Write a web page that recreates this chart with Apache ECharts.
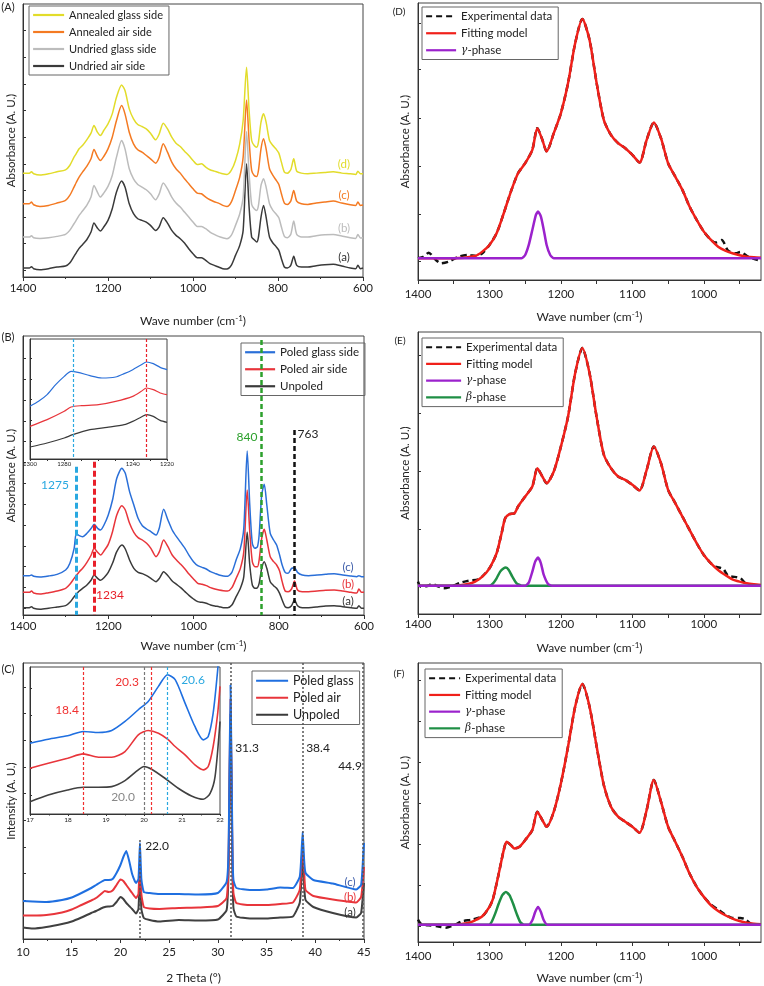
<!DOCTYPE html>
<html><head><meta charset="utf-8">
<script src="https://cdn.jsdelivr.net/npm/echarts@6/dist/echarts.min.js"></script>
<style>html,body{margin:0;padding:0;background:#fff}#c{width:764px;height:986px}</style>
</head><body><div id="c"></div>
<script>
// ---------- Panel A & B : FTIR (wave number grid) ----------
const wnFTIR = [1400,1385,1380,1375,1360,1340,1320,1300,1290,1280,1275,1268,1260,1250,1240,1233,1225,1218,1210,1200,1190,1180,1168,1160,1150,1140,1130,1120,1110,1100,1088,1080,1070,1060,1050,1040,1030,1020,1010,1000,990,980,970,960,950,940,930,920,910,900,890,882,874,868,862,856,850,846,840,834,828,820,812,805,798,792,785,778,770,763,756,745,730,710,690,670,650,630,617,612,606,600];
const undriedAir = [27,27,31,25,22,25,30,33,42,62,72,86,97,112,135,162,147,138,150,170,205,255,288,270,220,190,175,170,165,155,140,150,178,162,140,125,115,102,85,70,58,58,50,40,35,30,25,24,35,65,95,140,340,210,120,112,105,120,180,215,180,120,102,92,80,55,30,27,35,62,35,30,30,34,37,38,33,27,25,35,25,27];
const undriedGlass = [120,120,124,118,116,118,122,128,140,160,170,185,198,215,240,275,255,240,252,272,305,360,410,385,325,295,278,270,262,250,232,248,282,265,240,222,210,195,180,165,152,152,145,135,128,122,118,115,125,155,190,240,437,310,218,205,200,215,275,295,270,220,200,190,178,150,122,118,128,168,128,120,120,124,127,128,123,118,116,128,117,118];
const annealedAir = [220,220,225,217,212,215,222,230,245,270,283,300,315,332,355,383,362,350,362,385,420,470,515,490,435,400,382,375,365,355,342,358,400,375,345,325,312,295,280,265,252,250,240,232,226,222,215,212,225,260,300,360,532,410,320,305,302,320,385,415,385,325,305,292,278,250,222,218,228,260,228,220,218,222,225,228,222,217,215,225,215,216];
const annealedGlass = [312,312,316,310,306,310,316,322,335,360,370,385,395,412,432,455,435,425,440,460,490,540,577,560,505,475,458,452,445,432,412,428,462,445,420,402,392,378,365,350,338,340,330,322,318,314,310,308,320,350,400,470,630,500,410,395,390,405,465,490,465,410,395,385,372,345,315,312,322,355,318,312,310,312,314,316,312,310,308,318,310,310];
const unpoledB = [22,22,25,20,17,20,24,28,38,55,62,72,80,90,105,120,110,104,112,128,155,190,210,198,165,140,128,124,118,110,100,110,130,118,102,92,82,70,58,48,40,38,35,30,27,25,22,22,30,55,80,115,248,150,90,80,82,95,140,160,140,100,88,80,65,45,25,22,28,45,28,22,22,24,27,28,25,22,20,28,20,20];
const poledAirB = [68,68,72,66,63,67,72,80,92,110,118,130,140,158,180,200,188,180,192,212,250,300,328,315,275,248,232,225,215,200,175,190,225,205,180,165,152,138,122,108,95,92,88,82,78,75,73,72,82,110,140,190,375,250,160,145,145,165,230,257,225,175,160,150,132,100,72,70,78,102,75,70,70,72,74,75,72,68,66,78,68,68];
const poledGlassB = [118,118,120,116,114,117,122,135,155,200,245,238,235,245,260,272,260,255,270,300,345,410,440,425,370,330,290,268,258,250,240,262,317,285,255,235,218,200,178,160,148,143,138,130,125,120,117,116,128,165,200,260,492,330,215,200,205,240,360,392,330,245,225,210,180,150,128,125,140,142,128,120,118,120,122,124,120,117,115,118,115,115];
const markLinesB = [1275, 1234, 840, 763];       // wave numbers of dashed guides
const markTopsB = [445, 460, 825, 555];          // upper ends of the guides (A.U.)

// inset of B
const insetBGlassX = [1300,1295,1290,1285,1280,1276,1272,1265,1258,1250,1245,1240,1235,1232,1228,1224,1220];
const insetBGlass  = [158,173,193,223,248,263,260,250,243,246,256,268,283,291,286,275,268];
const insetBAirX = [1300,1290,1280,1276,1270,1260,1250,1240,1235,1232,1228,1224,1220];
const insetBAir  = [98,118,143,156,160,163,173,188,203,213,208,198,193];
const insetBUnpoledX = [1300,1290,1280,1275,1265,1255,1245,1240,1235,1232,1228,1224,1220];
const insetBUnpoled  = [36,48,63,73,88,95,103,113,126,133,128,116,110];
const insetBLines = [1275, 1232];

// ---------- Panel C : XRD ----------
const twoTheta = [10,11,12.4,14,15,16,17,17.5,18,18.4,18.8,19.2,19.6,20.0,20.3,20.6,20.9,21.2,21.6,21.85,22.0,22.15,22.4,23,24,26,28,30,30.9,31.1,31.3,31.5,31.6,31.9,33.3,35,36.4,37.7,38.4,38.55,38.7,38.85,39.0,39.8,41.8,44.2,44.7,44.9,45];
const xrdGlass = [38,37.5,37,39,41.5,46,51,54,57,59,59,60,66,74,82,88,78,65,56,60,96,60,47,46,45,45,44.5,46,57,90,254,90,59,51,49,49.5,51.5,51,62,80,107,80,66,59,55.5,49.5,54,80,96];
const xrdAir = [23.5,23.5,24,26.5,29.5,34,38.5,41,45,48,47,48.5,54,59.5,58,54,50,46,41,45,80,45,32,30.5,30,31,31.5,33,41,80,240,80,46,36,34,34,35,36.5,49,70,95,70,49,43,39.5,36.5,42,60,72];
const xrdUnpoled = [11.5,10.5,12,15,17.5,21.5,26,28,30.5,32,32.5,33,37,42,40,36,33,30,25.5,30,65,30,21,19,17.5,19,18.5,19.5,29,70,225,70,31,22.5,20.5,20.5,21.5,22.5,36,55,80,55,39,32,26,21.5,26,45,56];
const xrdLines = [22.0, 31.3, 38.7, 44.9];
const xrdLineTops = [99, 276, 276, 276];
// inset of C
const insetCX = [17,17.48,17.99,18.4,18.8,19.15,19.5,19.85,20.11,20.38,20.62,20.82,21.08,21.34,21.56,21.69,21.82,21.94,22];
const insetCGlass = [212,224,234,247,244,250,277,312,337,382,417,402,332,262,222,232,302,432,520];
const insetCAir = [137,152,167,180,170,170,187,237,250,242,224,202,177,147,132,142,202,302,382];
const insetCUnpoledX = [17,17.48,17.99,18.4,18.8,19.15,19.5,19.85,20.0,20.2,20.55,20.9,21.25,21.56,21.74,21.87,22];
const insetCUnpoled = [37,57,72,80,80,82,100,132,142,134,107,77,54,44,62,112,277];
const insetCLines = [18.4, 20.0, 20.2, 20.6];

// ---------- Panel D ----------
const dFitX = [1400,1350,1320,1310,1300,1290,1280,1270,1260,1250,1240,1233,1226,1220,1210,1200,1190,1180,1170,1160,1150,1140,1130,1120,1110,1100,1090,1080,1070,1060,1050,1040,1030,1020,1010,1000,990,980,970,960,950,940,930,920];
const dFit = [65,65,72,85,105,140,200,265,320,350,390,455,420,385,440,500,590,710,782,720,590,480,435,410,395,375,352,420,472,425,350,310,270,220,180,145,120,100,88,80,74,70,68,67];
const dExpX = [1400,1392,1385,1375,1368,1357,1343,1329,1319,1310,1300,1290,1280,1270,1260,1250,1240,1233,1226,1220,1210,1200,1190,1180,1170,1160,1150,1140,1130,1120,1110,1100,1090,1080,1070,1060,1050,1040,1030,1020,1010,1000,990,984,975,966,955,949,938,928,920];
const dExp = [65,70,82,60,50,55,70,75,72,80,105,140,200,265,320,350,390,455,420,385,440,500,590,710,782,720,590,480,435,410,395,375,352,420,472,425,350,310,270,220,180,145,120,112,120,88,80,84,70,62,58];
const dGammaX = [1400,1255,1250,1245,1240,1235,1232,1228,1224,1220,1215,1210,920];
const dGamma = [65,65,75,105,150,195,205,190,150,105,75,65,65];

// ---------- Panel E ----------
const eFitX = [1400,1350,1330,1320,1310,1300,1290,1283,1278,1272,1265,1260,1250,1240,1233,1226,1220,1210,1200,1190,1180,1170,1160,1150,1140,1130,1120,1110,1100,1090,1080,1070,1060,1050,1040,1030,1020,1010,1000,990,980,970,960,950,940,930,920];
const eFit = [85,85,90,97,112,137,182,242,287,299,302,322,352,382,437,412,392,427,502,592,722,797,722,590,478,437,412,402,387,370,432,502,452,372,332,292,252,212,177,152,132,117,104,97,92,89,87];
const eExpX = [1400,1396,1387,1380,1373,1364,1354,1340,1329,1315,1300,1290,1283,1278,1272,1265,1260,1250,1240,1233,1226,1220,1210,1200,1190,1180,1170,1160,1150,1140,1130,1120,1110,1100,1090,1080,1070,1060,1050,1040,1030,1020,1010,1000,990,984,973,966,949,942,933,920];
const eExp = [97,82,84,90,84,77,82,94,100,104,137,182,242,287,299,302,322,352,382,437,412,392,427,502,592,722,797,722,590,478,437,412,402,387,370,432,502,452,372,332,292,252,212,177,152,142,135,115,108,92,87,85];
const eBetaX = [1400,1300,1295,1290,1285,1280,1277,1273,1268,1262,1255,920];
const eBeta = [85,85,92,107,127,137,139,132,112,92,85,85];
const eGammaX = [1400,1250,1245,1240,1236,1232,1228,1224,1218,1212,920];
const eGamma = [85,85,94,127,157,169,152,117,90,85,85];

// ---------- Panel F ----------
const fFitX = [1400,1350,1330,1320,1310,1300,1295,1290,1285,1280,1276,1270,1265,1258,1250,1240,1233,1226,1220,1210,1200,1190,1180,1170,1160,1150,1140,1130,1120,1110,1100,1090,1080,1070,1060,1050,1040,1030,1020,1010,1000,990,980,970,960,950,940,930,920];
const fFit = [52,52,57,65,77,105,130,175,225,275,300,290,280,285,305,335,390,365,345,390,475,585,705,772,705,585,470,405,375,360,345,327,395,485,420,345,300,255,205,165,135,110,93,80,70,63,58,55,53];
const fExpX = [1400,1395,1385,1373,1361,1350,1338,1324,1310,1300,1295,1290,1285,1280,1276,1270,1265,1258,1250,1240,1233,1226,1220,1210,1200,1190,1180,1170,1160,1150,1140,1130,1120,1110,1100,1090,1080,1070,1060,1050,1040,1030,1020,1010,1000,990,980,970,960,949,942,933,920];
const fExp = [67,53,50,47,43,50,62,67,77,105,130,175,225,275,300,290,280,285,305,335,390,365,345,390,475,585,705,772,705,585,470,405,375,360,345,327,395,485,420,345,300,255,205,165,135,112,97,82,72,72,68,53,52];
const fBetaX = [1400,1300,1297,1292,1287,1282,1277,1272,1267,1262,1257,1252,920];
const fBeta = [52,52,60,85,115,140,150,140,115,85,60,52,52];
const fGammaX = [1400,1245,1240,1236,1232,1228,1224,1219,920];
const fGamma = [52,52,65,90,105,90,65,52,52];

// ---------- tick labels ----------
const wnTicksDEF = [1000,1100,1200,1300,1400];
const insetBTickLabels = [1300,1280,1240,1220];

// ================= build =================
const FONT = 'Lato';
const AX = '#333';
const plain = v => String(v);
function pairs(xs, ys){ const n=Math.min(xs.length, ys.length), o=[]; for(let i=0;i<n;i++) o.push([xs[i], ys[i]]); return o; }
const wnName = 'Wave number (cm{sup|-1})';
const nameRich = {sup:{fontSize:8, fontFamily:FONT, padding:[0,0,7,0], color:'#222'}};

function lab(o){ return Object.assign({fontSize:11.5, color:'#222', fontFamily:FONT, margin:5, formatter:plain}, o); }
function xA(grid, o){
  return Object.assign({gridIndex:grid, type:'value', splitLine:{show:false},
    axisLine:{show:true, onZero:false, lineStyle:{color:AX, width:1}},
    axisTick:{show:true, length:4, lineStyle:{color:AX}},
    axisLabel:lab({}),
    nameLocation:'middle', nameTextStyle:{fontSize:12, color:'#222', fontFamily:FONT, rich:nameRich}}, o);
}
function yA(grid, max, ticks, o){
  return Object.assign({gridIndex:grid, type:'value', min:0, max:max, splitLine:{show:false},
    axisLine:{show:true, onZero:false, lineStyle:{color:AX, width:1}},
    axisTick:{show:true, inside:true, length:3, customValues:ticks, lineStyle:{color:AX}},
    axisLabel:{show:false},
    nameLocation:'middle', nameRotate:90, nameTextStyle:{fontSize:11.5, color:'#222', fontFamily:FONT}}, o);
}

const grids = [
  {left:23, top:4, width:340, height:273},
  {left:23, top:336, width:341, height:279},
  {left:30, top:339, width:137, height:120},
  {left:23, top:663, width:341, height:276},
  {left:30, top:667, width:190, height:147},
  {left:418, top:3, width:343, height:277},
  {left:418, top:332, width:343, height:282},
  {left:418, top:663, width:343, height:279}
].map(g => Object.assign({show:true, borderColor:'#444', borderWidth:1, backgroundColor:'transparent'}, g));

const defTicks = [950,1000,1050,1100,1150,1200,1250,1300,1350,1400];
const minor2 = {show:true, splitNumber:2, length:2, lineStyle:{color:AX}};
const xAxes = [
  xA(0,{min:600,max:1400,inverse:true,interval:200,minorTick:minor2,name:wnName,nameGap:37}),
  xA(1,{min:600,max:1400,inverse:true,interval:200,minorTick:minor2,name:wnName,nameGap:24}),
  xA(2,{min:1220,max:1300,inverse:true,axisTick:{show:true,length:2,customValues:[1300,1290,1280,1270,1260,1250,1240,1230,1220],lineStyle:{color:AX}},
        axisLabel:lab({fontSize:6,margin:2,customValues:insetBTickLabels})}),
  xA(3,{min:10,max:45,interval:5,minorTick:minor2,name:'2 Theta (°)',nameGap:33,axisLabel:lab({margin:7})}),
  xA(4,{min:17,max:22,interval:1,minorTick:{show:true,splitNumber:2,length:1.5,lineStyle:{color:AX}},axisTick:{show:true,length:2,lineStyle:{color:AX}},
        axisLabel:lab({fontSize:6.5,margin:2})}),
  xA(5,{min:920,max:1400,inverse:true,axisTick:{show:true,length:4,customValues:defTicks,lineStyle:{color:AX}},axisLabel:lab({margin:8,customValues:wnTicksDEF}),name:wnName,nameGap:30}),
  xA(6,{min:920,max:1400,inverse:true,axisTick:{show:true,length:4,customValues:defTicks,lineStyle:{color:AX}},axisLabel:lab({margin:4,customValues:wnTicksDEF}),name:wnName,nameGap:27}),
  xA(7,{min:920,max:1400,inverse:true,axisTick:{show:true,length:4,customValues:defTicks,lineStyle:{color:AX}},axisLabel:lab({margin:8,customValues:wnTicksDEF}),name:wnName,nameGap:29})
];
const yAxes = [
  yA(0,820,[20,100,180,260,340,420,500,580,660,740],{name:'Absorbance (A. U.)',nameGap:6}),
  yA(1,837,[20,82,145,207,270,332,395,457,520,582,645,707,770],{name:'Absorbance (A. U.)',nameGap:6}),
  yA(2,360,[53,115,178,240,303],{axisTick:{show:true,inside:true,length:2,customValues:[53,115,178,240,303],lineStyle:{color:AX}}}),
  yA(3,276,[12,38.7,65.3,92,118.7,145.3,172,198.7,225.3,252],{name:'Intensity (A. U.)',nameGap:6}),
  yA(4,440,[57,137,217,297,377],{axisTick:{show:true,inside:true,length:2,customValues:[57,137,217,297,377],lineStyle:{color:AX}}}),
  yA(5,830,[55,197,340,485,630,770],{name:'Absorbance (A. U.)',nameGap:7}),
  yA(6,845,[84,254,427,602,774],{name:'Absorbance (A. U.)',nameGap:7}),
  yA(7,835,[47,170,292,415,537,660,782],{name:'Absorbance (A. U.)',nameGap:7})
];

function line(name, gi, data, color, width, extra){
  return Object.assign({type:'line', name:name, xAxisIndex:gi, yAxisIndex:gi, data:data, showSymbol:false, symbol:'none',
    smooth:0.25, clip:true, lineStyle:{color:color, width:width}, itemStyle:{color:color}, animation:false}, extra||{});
}
function vLines(xs, tops, styles){
  return {silent:true, symbol:'none', label:{show:false}, animation:false,
    data: xs.map((x,i)=>[{coord:[x, tops[i]], lineStyle:styles[i]},{coord:[x,0]}])};
}

const C_YEL='#e2dc2a', C_ORG='#f47a22', C_GRY='#bcbcbc', C_BLK='#3a3a3a';
const C_BLU='#2a6fd8', C_RED='#e8353b', C_LB='#29a8e0', C_GRN='#2ca02c';
const C_PUR='#9b22cc', C_BETA='#1f8f45';
const dl = (c,w,t) => ({color:c,width:w,type:t});

const series = [
  line('Undried air side',0,pairs(wnFTIR,undriedAir),C_BLK,1.5),
  line('Undried glass side',0,pairs(wnFTIR,undriedGlass),C_GRY,1.5),
  line('Annealed air side',0,pairs(wnFTIR,annealedAir),C_ORG,1.5),
  line('Annealed glass side',0,pairs(wnFTIR,annealedGlass),C_YEL,1.5),
  line('Unpoled',1,pairs(wnFTIR,unpoledB),C_BLK,1.5,{markLine:vLines(markLinesB,markTopsB,[
      dl(C_LB,3,[6,3]),dl('#e8202a',3,[6,3]),dl(C_GRN,2.5,[5,3]),dl('#111',2.5,[5,3])])}),
  line('Poled air side',1,pairs(wnFTIR,poledAirB),C_RED,1.5),
  line('Poled glass side',1,pairs(wnFTIR,poledGlassB),C_BLU,1.5),
  line('Unpoled',2,pairs(insetBUnpoledX,insetBUnpoled),C_BLK,1.2,{markLine:vLines(insetBLines,[360,360],[
      dl(C_LB,1.2,[3,2]),dl('#e8202a',1.2,[3,2])])}),
  line('Poled air side',2,pairs(insetBAirX,insetBAir),C_RED,1.2),
  line('Poled glass side',2,pairs(insetBGlassX,insetBGlass),C_BLU,1.2),
  line('Unpoled',3,pairs(twoTheta,xrdUnpoled),'#404040',2,{smooth:0.15,markLine:vLines(xrdLines,xrdLineTops,[
      dl('#555',1.5,[2,2]),dl('#555',1.5,[2,2]),dl('#555',1.5,[2,2]),dl('#555',1.5,[2,2])])}),
  line('Poled air',3,pairs(twoTheta,xrdAir),C_RED,2,{smooth:0.15}),
  line('Poled glass',3,pairs(twoTheta,xrdGlass),'#1f6fe0',2,{smooth:0.15}),
  line('Unpoled',4,pairs(insetCUnpoledX,insetCUnpoled),'#404040',1.6,{markLine:vLines(insetCLines,[440,440,440,440],[
      dl('#f03030',1.2,[3,2]),dl('#777',1.2,[3,2]),dl('#f03030',1.2,[3,2]),dl(C_LB,1.2,[3,2])])}),
  line('Poled air',4,pairs(insetCX,insetCAir),C_RED,1.6),
  line('Poled glass',4,pairs(insetCX,insetCGlass),'#1f6fe0',1.6),
  line('Experimental data',5,pairs(dExpX,dExp),'#111',2.5,{lineStyle:{color:'#111',width:2.5,type:[6,4]}}),
  line('Fitting model',5,pairs(dFitX,dFit),'#f0201a',2.5),
  line('γ-phase',5,pairs(dGammaX,dGamma),C_PUR,2.5,{smooth:0.2}),
  line('Experimental data',6,pairs(eExpX,eExp),'#111',2.5,{lineStyle:{color:'#111',width:2.5,type:[6,4]}}),
  line('Fitting model',6,pairs(eFitX,eFit),'#f0201a',2.5),
  line('β-phase',6,pairs(eBetaX,eBeta),C_BETA,2.5,{smooth:0.2}),
  line('γ-phase',6,pairs(eGammaX,eGamma),C_PUR,2.5,{smooth:0.2}),
  line('Experimental data',7,pairs(fExpX,fExp),'#111',2.5,{lineStyle:{color:'#111',width:2.5,type:[6,4]}}),
  line('Fitting model',7,pairs(fFitX,fFit),'#f0201a',2.5),
  line('β-phase',7,pairs(fBetaX,fBeta),C_BETA,2.5,{smooth:0.2}),
  line('γ-phase',7,pairs(fGammaX,fGamma),C_PUR,2.5,{smooth:0.2})
];

function leg(data, left, top, iw, fs, gap){
  return {data:data, left:left, top:top, orient:'vertical', itemWidth:iw, itemHeight:10, itemGap:gap,
    padding:[3,6,3,3], borderColor:'#666', borderWidth:1, borderRadius:0, selectedMode:false,
    itemStyle:{opacity:0}, lineStyle:{width:2.2},
    textStyle:{fontSize:fs, color:'#222', fontFamily:FONT, lineHeight:fs+1,
      rich:{i:{fontStyle:'italic', fontFamily:'DejaVu Serif', fontSize:fs-1, color:'#222'}}},
    formatter: n => n.replace('γ','{i|γ}').replace('β','{i|β}')};
}
const legends = [
  leg(['Annealed glass side','Annealed air side','Undried glass side','Undried air side'],29,6,31,11,5),
  leg(['Poled glass side','Poled air side','Unpoled'],241,343,30,11.5,4.5),
  leg(['Poled glass','Poled air','Unpoled'],252,671,32,12.5,3.5),
  leg(['Experimental data','Fitting model','γ-phase'],422,7,30,11.5,4.5),
  leg(['Experimental data','Fitting model','γ-phase','β-phase'],422,338,35,11.5,4.2),
  leg(['Experimental data','Fitting model','γ-phase','β-phase'],425,669,31,11.5,4.2)
];

function T(x,y,text,color,size){
  return {type:'text', x:x, y:y, silent:true, z:100,
    style:{text:text, fill:color||'#222', fontSize:size||11.5, fontFamily:FONT, align:'center', verticalAlign:'middle'}};
}
const texts = [
  T(8,7,'(A)','#222',11), T(344,164,'(d)',C_YEL,11.5), T(344,195,'(c)',C_ORG,11.5), T(344,228,'(b)',C_GRY,11.5), T(344,257,'(a)','#333',11.5),
  T(8,337,'(B)','#222',11), T(55,485,'1275',C_LB,12), T(110,595,'1234','#e8202a',12), T(247,437,'840',C_GRN,12), T(308,434,'763','#222',12),
  T(348,567,'(c)','#3a5aa8',11.5), T(348,584,'(b)',C_RED,11.5), T(348,601,'(a)','#333',11.5),
  T(8,669,'(C)','#222',11), T(157,846,'22.0','#222',12), T(247,748,'31.3','#222',12), T(318,748,'38.4','#222',12), T(350,766,'44.9','#222',12),
  T(350,882,'(c)','#3a5aa8',11.5), T(350,897,'(b)',C_RED,11.5), T(350,912,'(a)','#333',11.5),
  T(67,710,'18.4','#f03030',12), T(127,682,'20.3','#f03030',12), T(193,680,'20.6',C_LB,12), T(123,797,'20.0','#888',12),
  T(399,12,'(D)','#222',10), T(400,341,'(E)','#222',10), T(399,674,'(F)','#222',10)
];

const chart = echarts.init(document.getElementById('c'));
chart.setOption({
  animation:false, backgroundColor:'#fff',
  textStyle:{fontFamily:FONT},
  grid:grids, xAxis:xAxes, yAxis:yAxes, series:series, legend:legends,
  graphic:{elements:texts}
});
</script></body></html>
